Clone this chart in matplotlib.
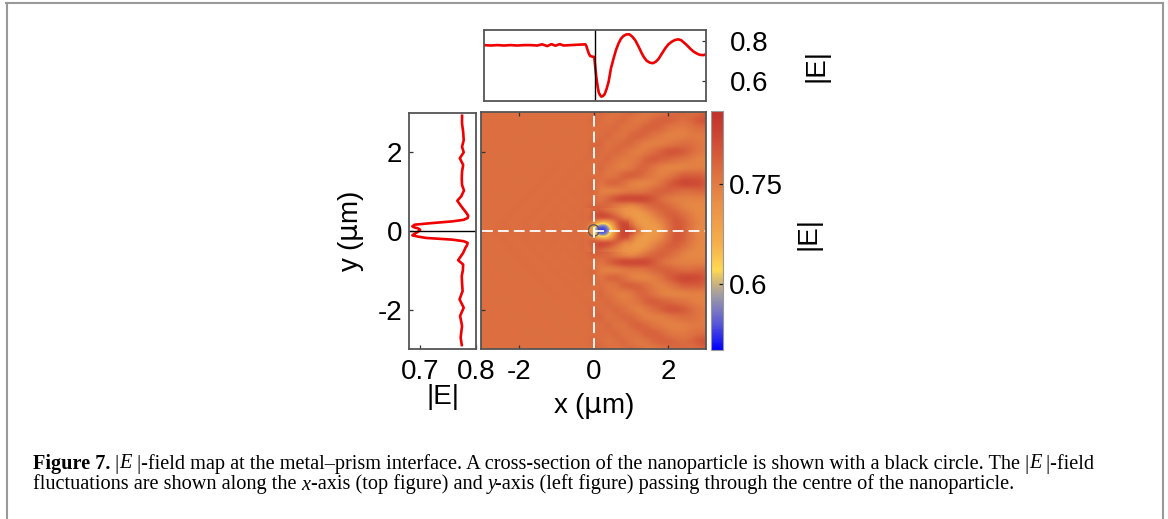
import matplotlib
matplotlib.use('Agg')
import matplotlib.pyplot as plt
import numpy as np
from matplotlib.colors import LinearSegmentedColormap
from matplotlib.lines import Line2D

W, H = 1168, 519

# top profile, |E| along y=0
top_x = [-2.98, -2.81, -2.63, -2.45, -2.27, -2.09, -1.91, -1.73, -1.55, -1.42, -1.28, -1.17, -1.06, -0.94, -0.84,
         -0.66, -0.25, -0.22, -0.19, -0.155, -0.12, -0.06, -0.01, 0.015, 0.045, 0.075, 0.108, 0.14, 0.18, 0.225,
         0.27, 0.32, 0.377, 0.44, 0.512, 0.58, 0.647, 0.71, 0.78, 0.86, 0.943, 1.02, 1.096, 1.19,
         1.276, 1.34, 1.41, 1.49, 1.572, 1.65, 1.725, 1.81, 1.905, 1.995, 2.084, 2.175, 2.264, 2.335, 2.40, 2.49,
         2.58, 2.67, 2.758, 2.83, 2.893, 2.95, 3.0]
top_e = [.778, .776, .778, .776, .778, .776, .778, .778, .776, .782, .773, .783, .775, .783, .776,
         .778, .782, .772, .753, .735, .723, .720, .719, .670, .618, .578, .543, .528, .519, .522,
         .531, .556, .593, .660, .711, .755, .787, .810, .824, .832, .832, .820, .803, .770,
         .736, .715, .699, .690, .687, .694, .708, .733, .761, .782, .795, .804, .807, .803, .793, .778,
         .761, .746, .736, .730, .728, .728, .731]

# left profile, |E| along x=0
left_y = [2.93, 2.73, 2.52, 2.31, 2.14, 2.0, 1.85, 1.68, 1.51, 1.34, 1.17, 1.03, .88, .77, .62, .456, .39, .33, .285,
          .245, .2, .16, .118, .09, .068, .03, 0, -.03, -.068, -.11, -.14, -.177, -.22, -.26, -.30, -.36, -.43, -.557,
          -.743, -.852, -.996, -1.148, -1.316, -1.527, -1.738, -1.949, -2.16, -2.41, -2.71, -2.90]
left_e = [.775, .775, .777, .778, .775, .778, .771, .777, .775, .7745, .775, .7785, .7735, .7665, .774, .783, .786, .785, .778,
          .758, .720, .690, .686, .690, .696, .700, .698, .695, .690, .686, .695, .711, .758, .778, .785, .784, .781, .777,
          .768, .777, .7765, .7745, .775, .776, .7705, .778, .7715, .775, .7725, .7745]

# map, upper half, rows y = 3.0 ... 0.0 step 0.2, columns x = -3.0 ... -0.2
map_left = [
    [.770, .770, .767, .770, .770, .767, .770, .770, .767, .770, .770, .767, .770, .770, .767],
    [.770, .767, .770, .770, .767, .770, .770, .767, .770, .767, .770, .770, .767, .770, .770],
    [.767, .770, .770, .767, .770, .770, .767, .770, .767, .770, .770, .767, .770, .767, .770],
    [.770, .770, .767, .770, .770, .767, .770, .767, .770, .770, .767, .770, .767, .770, .770],
    [.770, .767, .770, .770, .767, .770, .767, .770, .770, .767, .770, .767, .770, .770, .767],
    [.767, .770, .770, .767, .770, .767, .770, .770, .767, .770, .767, .770, .770, .767, .770],
    [.770, .770, .767, .770, .767, .770, .770, .767, .770, .767, .770, .770, .767, .770, .773],
    [.770, .767, .770, .767, .770, .770, .767, .770, .767, .770, .773, .767, .770, .773, .767],
    [.767, .770, .767, .770, .770, .767, .770, .767, .770, .773, .767, .770, .773, .767, .773],
    [.770, .767, .770, .770, .767, .770, .767, .770, .773, .767, .770, .773, .767, .773, .770],
    [.767, .770, .770, .767, .770, .767, .770, .773, .767, .770, .773, .767, .773, .770, .773],
    [.770, .770, .767, .770, .767, .770, .773, .767, .770, .773, .767, .773, .767, .773, .770],
    [.770, .767, .770, .767, .770, .773, .767, .770, .773, .767, .773, .767, .773, .770, .773],
    [.767, .770, .767, .770, .773, .767, .770, .773, .767, .773, .770, .773, .767, .773, .775],
    [.770, .767, .770, .773, .767, .770, .773, .767, .773, .770, .773, .767, .773, .770, .775],
    [.770, .770, .773, .770, .773, .770, .773, .770, .773, .770, .773, .773, .773, .773, .770],
]

# same rows, columns x = 0.0 ... 3.0
map_right = [
    [.77, .78, .77, .76, .77, .78, .77, .75, .75, .76, .77, .78, .78, .77, .77, .79],
    [.78, .77, .76, .77, .78, .76, .75, .76, .78, .79, .79, .78, .77, .78, .80, .81],
    [.77, .77, .77, .78, .76, .76, .77, .79, .79, .78, .76, .75, .75, .76, .77, .77],
    [.77, .77, .78, .76, .76, .78, .79, .78, .76, .75, .74, .74, .74, .75, .75, .75],
    [.78, .78, .76, .77, .78, .78, .76, .74, .74, .74, .75, .76, .77, .77, .76, .75],
    [.78, .77, .77, .78, .77, .75, .74, .75, .77, .79, .81, .81, .80, .78, .76, .75],
    [.77, .77, .78, .76, .75, .75, .76, .79, .80, .79, .78, .77, .76, .75, .74, .74],
    [.77, .78, .76, .75, .74, .75, .78, .78, .76, .74, .73, .73, .73, .74, .74, .74],
    [.77, .77, .75, .76, .79, .80, .79, .77, .75, .74, .75, .77, .79, .79, .79, .78],
    [.78, .76, .79, .79, .77, .74, .73, .73, .74, .76, .79, .81, .83, .83, .82, .80],
    [.78, .74, .73, .73, .74, .75, .75, .76, .78, .79, .79, .78, .77, .77, .78, .78],
    [.77, .76, .79, .82, .84, .84, .84, .83, .80, .77, .75, .74, .74, .74, .74, .74],
    [.79, .78, .77, .74, .72, .71, .73, .76, .78, .79, .78, .76, .74, .73, .73, .73],
    [.81, .82, .81, .78, .74, .70, .69, .71, .74, .77, .79, .79, .77, .75, .73, .73],
    [.75, .68, .72, .80, .82, .76, .70, .69, .71, .73, .77, .80, .79, .76, .74, .73],
    [.72, .54, .62, .76, .82, .83, .76, .70, .69, .71, .76, .80, .79, .76, .73, .73],
]

# finer patch round the particle, rows y = 0.5 ... 0, columns x = -0.2 ... 0.9
patch = [
    [.77, .77, .78, .79, .78, .77, .76, .75, .74, .73, .72, .71],
    [.77, .77, .80, .81, .82, .81, .80, .78, .76, .74, .72, .71],
    [.77, .78, .80, .81, .82, .82, .82, .81, .80, .78, .75, .73],
    [.77, .77, .76, .72, .68, .66, .68, .72, .77, .81, .82, .80],
    [.77, .75, .70, .56, .54, .54, .60, .68, .75, .81, .83, .82],
    [.77, .72, .66, .53, .52, .52, .55, .62, .71, .79, .82, .83],
]

colorbar_ticks = [0.6, 0.75]
caption_1 = [('Figure 7.', 'bold', 'normal'), (' |', 'normal', 'normal'), ('E', 'normal', 'italic'),
             (' |-field map at the metal\u2013prism interface. A cross-section of the nanoparticle is shown with a black circle. The |', 'normal', 'normal'),
             ('E', 'normal', 'italic'), (' |-field', 'normal', 'normal')]
caption_2 = [('fluctuations are shown along the ', 'normal', 'normal'), ('x', 'normal', 'italic'),
             ('-axis (top figure) and ', 'normal', 'normal'), ('y', 'normal', 'italic'),
             ('-axis (left figure) passing through the centre of the nanoparticle.', 'normal', 'normal')]

plt.rcParams['font.family'] = ['Liberation Sans', 'DejaVu Sans']
plt.rcParams['font.size'] = 20
plt.rcParams['mathtext.fontset'] = 'dejavusans'

cmap = LinearSegmentedColormap.from_list('field', [
    (0.0, '#0000ff'), (0.11, '#5a58d8'), (0.22, '#9a98a8'), (0.28, '#cdb47c'), (0.335, '#ffd850'),
    (0.44, '#f5b04c'), (0.61, '#ea9047'), (0.75, '#dc6e40'), (0.86, '#d04f36'), (1.0, '#c0302a')])
vmin, vmax = 0.5, 0.86


def pixel_axes(x0, y0, x1, y1):
    return fig.add_axes([x0 / W, 1 - y1 / H, (x1 - x0) / W, (y1 - y0) / H])


def style(ax):
    for s in ax.spines.values():
        s.set_color('#555555')
        s.set_linewidth(1.3)
    ax.tick_params(direction='in', length=3, width=0.9, color='#333333')


fig = plt.figure(figsize=(W / 100, H / 100), dpi=100)

upper = np.hstack([np.array(map_left), np.array(map_right)])
field = np.vstack([upper, upper[-2::-1]])
patch_upper = np.array(patch)
patch_full = np.vstack([patch_upper, patch_upper[-2::-1]])

ax = pixel_axes(481, 112, 706, 349)
im = ax.imshow(field, extent=[-3.1, 3.1, -3.1, 3.1], cmap=cmap, vmin=vmin, vmax=vmax,
               interpolation='gaussian', aspect='auto')
ax.imshow(patch_full, extent=[-0.25, 0.95, -0.55, 0.55], cmap=cmap, vmin=vmin, vmax=vmax,
          interpolation='bicubic', aspect='auto')
ax.plot([-3, 3], [0, 0], color='white', lw=1.3, dashes=(6, 2.8))
ax.plot([0, 0], [-3, 3], color='white', lw=1.3, dashes=(6, 2.8))
ax.add_patch(plt.Circle((0, 0), 0.145, fill=False, ec='#555555', lw=0.9))
ax.set_xlim(-3.02, 3.01)
ax.set_ylim(-3, 3)
ax.set_xticks([-2, 0, 2])
ax.set_xticklabels(['-2', '0', '2'])
ax.set_yticks([-2, 0, 2])
ax.set_yticklabels([])
style(ax)
ax.tick_params(top=True, pad=7)

axt = pixel_axes(484, 30, 706, 101)
axt.plot(top_x, top_e, color='#f00000', lw=1.9)
axt.axvline(0, color='black', lw=1)
axt.set_xlim(-2.99, 3.01)
axt.set_ylim(0.497, 0.854)
axt.set_xticks([])
axt.set_yticks([0.6, 0.8])
axt.yaxis.tick_right()
style(axt)
axt.tick_params(axis='y', pad=17)

axl = pixel_axes(409, 113, 476, 349)
axl.plot(left_e, left_y, color='#f00000', lw=1.9)
axl.axhline(0, color='black', lw=1)
axl.set_xlim(0.68, 0.8)
axl.set_ylim(-3, 3)
axl.set_xticks([0.7, 0.8])
axl.set_yticks([-2, 0, 2])
axl.set_yticklabels(['-2', '0', '2'])
style(axl)
axl.tick_params(axis='x', pad=7)
axl.tick_params(axis='y', pad=5)

cax = pixel_axes(711, 111, 723, 350)
cb = fig.colorbar(im, cax=cax)
cb.set_ticks(colorbar_ticks)
cb.set_ticklabels(['0.6', '0.75'])
cb.ax.tick_params(direction='in', length=3, width=0.9, color='#222222', pad=4)
cb.outline.set_edgecolor('#999999')
cb.outline.set_linewidth(0.8)


def ptext(x, y, s, **kw):
    fig.text(x / W, 1 - y / H, s, ha='center', va='center', **kw)


ptext(351, 231, r'y ($\mathrm{\mu}$m)', rotation=90)
ptext(594, 406, r'x ($\mathrm{\mu}$m)')
ptext(443, 397, '|E|')
ptext(817, 65, '|E|', rotation=90)
ptext(809, 233, '|E|', rotation=90)

# page frame of the original scan
frame = dict(color='#999999', lw=1.5, transform=fig.transFigure)
fig.add_artist(Line2D([6.5 / W, 6.5 / W], [0, 1 - 3 / H], **frame))
fig.add_artist(Line2D([6 / W, 1162.5 / W], [1 - 3 / H, 1 - 3 / H], **frame))
fig.add_artist(Line2D([1162.5 / W, 1162.5 / W], [0, 1 - 3 / H], **frame))


def caption(runs, x, y, size):
    r = fig.canvas.get_renderer()
    for s, weight, style_ in runs:
        t = fig.text(x / W, 1 - y / H, s, family='Liberation Serif', fontsize=size, weight=weight,
                     style=style_, va='baseline', ha='left')
        # trailing spaces are not measured reliably, so measure with a marker
        t.set_text(s + '.')
        w1 = t.get_window_extent(r).width
        t.set_text('.')
        w2 = t.get_window_extent(r).width
        t.set_text(s)
        x += w1 - w2


caption(caption_1, 33, 468.5, 14.6)
caption(caption_2, 33, 489.5, 14.6)

fig.savefig('out.png', dpi=100)
